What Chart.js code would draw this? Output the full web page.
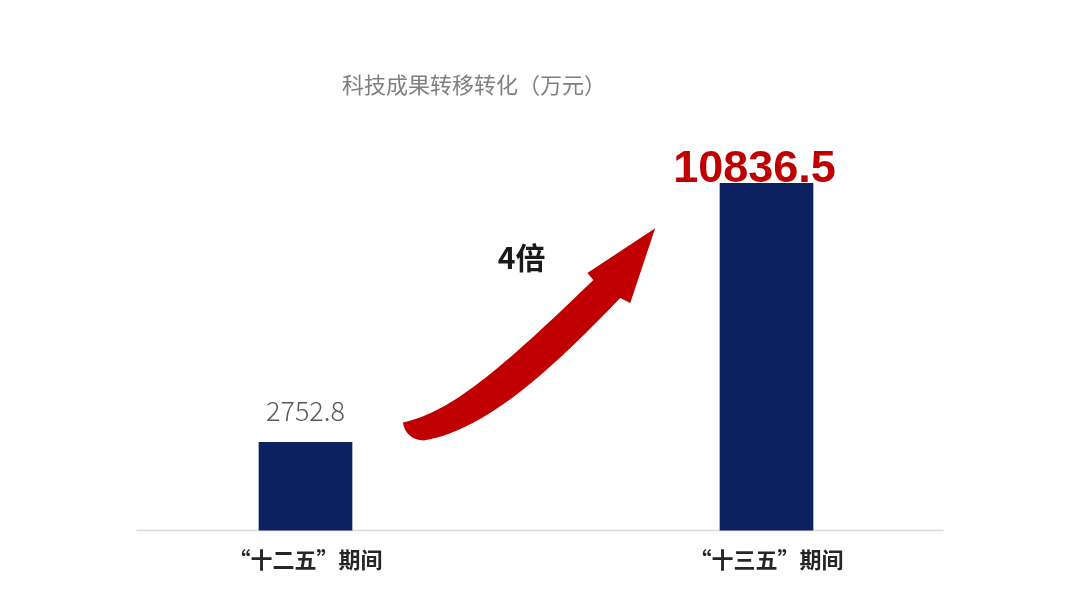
<!DOCTYPE html>
<html>
<head>
<meta charset="utf-8">
<script src="https://cdn.jsdelivr.net/npm/chart.js@4/dist/chart.umd.min.js"></script>
<style>
	html, body { margin: 0; padding: 0; background: #fff; }
	#wrap { width: 1080px; height: 608px; }
</style>
</head>
<body>
<div id="wrap"><canvas id="myChart" width="1080" height="608"></canvas></div>
<script>
var categories = ['“十二五”期间', '“十三五”期间'];
var values = [2752.8, 10836.5];
var valueLabels = ['2752.8', '10836.5'];
var chartTitle = '科技成果转移转化（万元）';
var ratioLabel = '4倍';

var CJK = '"Noto Sans CJK SC", "Noto Sans", sans-serif';

// arrow outline, in reference pixels, mapped onto the gap between the two bars
var arrowRef = { x1: 351, x2: 720, y1: 443, y2: 183 };

var overlay = {
	id: 'overlay',
	beforeDatasetsDraw: function(chart) {
		var ctx = chart.ctx, xs = chart.scales.x;
		var y = chart.scales.y.getPixelForValue(0);
		ctx.save();
		ctx.strokeStyle = '#d9d9d9';
		ctx.lineWidth = 1.5;
		ctx.beginPath();
		ctx.moveTo(xs.getPixelForValue(0) - 169, y);
		ctx.lineTo(xs.getPixelForValue(1) + 177, y);
		ctx.stroke();
		ctx.restore();
	},
	afterDatasetsDraw: function(chart) {
		var ctx = chart.ctx;
		var bars = chart.getDatasetMeta(0).data;
		var b1 = bars[0], b2 = bars[1];

		ctx.save();
		// title
		ctx.fillStyle = '#7f7f7f';
		ctx.font = '22px ' + CJK;
		ctx.textAlign = 'center';
		ctx.textBaseline = 'middle';
		ctx.fillText(chartTitle, (b1.x + b2.x) / 2 - 62, 85);

		// value labels
		ctx.textBaseline = 'alphabetic';
		ctx.fillStyle = '#595959';
		ctx.font = '300 27px ' + CJK;
		ctx.fillText(valueLabels[0], b1.x, b1.y - 21);
		ctx.fillStyle = '#c00000';
		ctx.font = 'bold 45px "Liberation Sans", Arial, sans-serif';
		ctx.fillText(valueLabels[1], b2.x - 12, b2.y - 1);

		// arrow
		var x1 = b1.x + b1.width / 2, x2 = b2.x - b2.width / 2;
		var y1 = b1.y, y2 = b2.y;
		function P(px, py) {
			return [x1 + (px - arrowRef.x1) / (arrowRef.x2 - arrowRef.x1) * (x2 - x1),
			        y1 + (py - arrowRef.y1) / (arrowRef.y2 - arrowRef.y1) * (y2 - y1)];
		}
		var p;
		ctx.fillStyle = '#c00000';
		ctx.beginPath();
		p = P(402, 423); ctx.moveTo(p[0], p[1]);
		var a = P(450, 413), b = P(500, 370), c = P(593, 280);
		ctx.bezierCurveTo(a[0], a[1], b[0], b[1], c[0], c[1]);
		p = P(587, 273); ctx.lineTo(p[0], p[1]);
		p = P(655, 228); ctx.lineTo(p[0], p[1]);
		p = P(630, 303); ctx.lineTo(p[0], p[1]);
		p = P(620, 298); ctx.lineTo(p[0], p[1]);
		a = P(560, 360); b = P(490, 430); c = P(423, 441);
		ctx.bezierCurveTo(a[0], a[1], b[0], b[1], c[0], c[1]);
		a = P(405, 440); c = P(402, 423);
		ctx.quadraticCurveTo(a[0], a[1], c[0], c[1]);
		ctx.closePath();
		ctx.fill();

		// ratio text
		ctx.fillStyle = '#1a1a1a';
		ctx.font = 'bold 30px ' + CJK;
		ctx.textAlign = 'center';
		ctx.textBaseline = 'middle';
		p = P(521, 258);
		ctx.fillText(ratioLabel, p[0], p[1]);
		ctx.restore();
	}
};

var chart = new Chart(document.getElementById('myChart').getContext('2d'), {
	type: 'bar',
	data: {
		labels: categories,
		datasets: [{
			data: values,
			backgroundColor: '#0c2060',
			barThickness: 93,
		}]
	},
	options: {
		responsive: false,
		animation: false,
		layout: { padding: { left: 75, right: 83, top: 82, bottom: 19 } },
		plugins: {
			legend: { display: false },
			tooltip: { enabled: false },
		},
		scales: {
			x: {
				grid: { display: false, drawTicks: false },
				border: { display: false },
				ticks: {
					padding: 16,
					color: '#262626',
					font: { family: CJK, size: 22, weight: 'bold' },
				}
			},
			y: {
				display: false,
				min: 0,
				max: 14000,
			}
		}
	},
	plugins: [overlay]
});
</script>
</body>
</html>
